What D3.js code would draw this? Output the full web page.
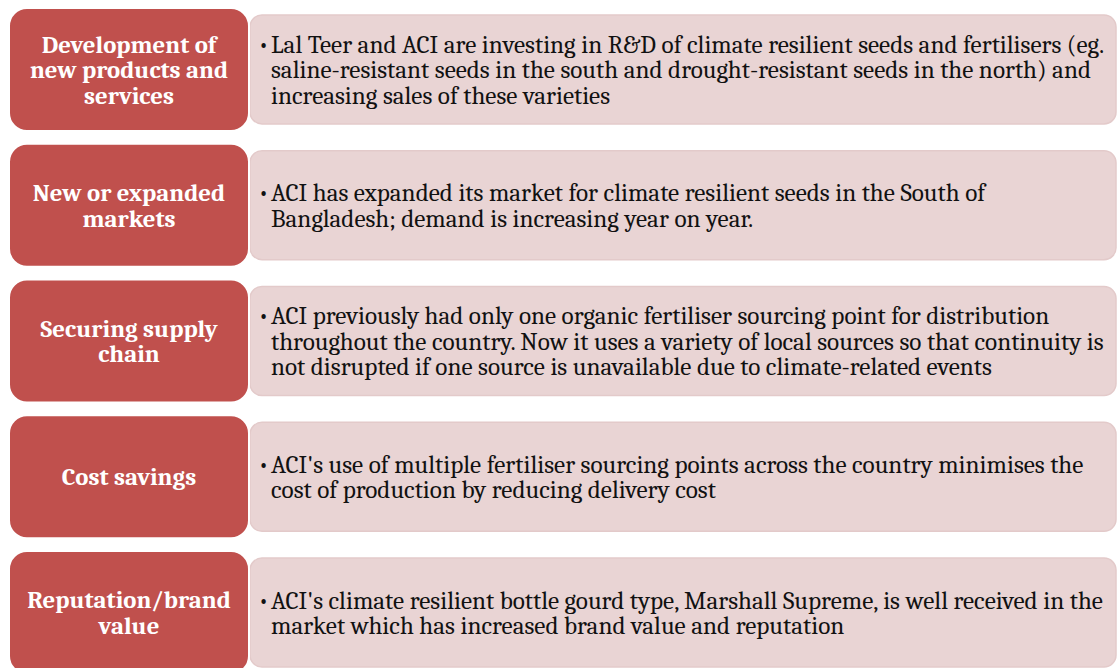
<!DOCTYPE html>
<html>
<head>
<meta charset="utf-8">
<script src="https://cdn.jsdelivr.net/npm/d3@7"></script>
<style>
  body { margin: 0; background: #fff; }
  svg { display: block; }
</style>
</head>
<body>
<div id="chart"></div>
<script>
// set dimensions
var width = 1117;
var height = 668;

// data
var categories = [
  ["Development of", "new products and", "services"],
  ["New or expanded", "markets"],
  ["Securing supply", "chain"],
  ["Cost savings"],
  ["Reputation/brand", "value"]
];

var descriptions = [
  ["Lal Teer and ACI are investing in R&D of climate resilient seeds and fertilisers (eg.",
   "saline-resistant seeds in the south and drought-resistant seeds in the north) and",
   "increasing sales of these varieties"],
  ["ACI has expanded its market for climate resilient seeds in the South of",
   "Bangladesh; demand is increasing year on year."],
  ["ACI previously had only one organic fertiliser sourcing point for distribution",
   "throughout the country. Now it uses a variety of local sources so that continuity is",
   "not disrupted if one source is unavailable due to climate-related events"],
  ["ACI's use of multiple fertiliser sourcing points across the country minimises the",
   "cost of production by reducing delivery cost"],
  ["ACI's climate resilient bottle gourd type, Marshall Supreme, is well received in the",
   "market which has increased brand value and reputation"]
];

var rows = d3.range(categories.length);

var svg = d3.select("#chart")
  .append("svg")
    .attr("width", width)
    .attr("height", height);

// rows
var y = d3.scaleBand()
  .domain(rows)
  .range([8, 674])
  .paddingInner(0.095)
  .paddingOuter(0);

var serif = "Cambria, 'Liberation Serif', 'DejaVu Serif', serif";

// pick a font size so the longest line fills the box like the original
var probe = svg.append("text")
  .style("font-family", serif)
  .style("font-size", "20px")
  .text(descriptions[0][0]);
var w20 = probe.node().getComputedTextLength();
probe.remove();
var bodySize = 20 * 834 / w20;

var labelSize = bodySize * 0.985;

var g = svg.selectAll(".row")
  .data(rows)
  .enter()
  .append("g")
    .attr("class", "row");

// pink text boxes
g.append("rect")
  .attr("x", 250)
  .attr("y", function(d) { return y(d) + 7; })
  .attr("width", 866)
  .attr("height", y.bandwidth() - 14)
  .attr("rx", 12)
  .attr("fill", "#e9d4d4")
  .attr("stroke", "#e3caca")
  .attr("stroke-width", 1.5);

// red label boxes
g.append("rect")
  .attr("x", 9)
  .attr("y", function(d) { return y(d); })
  .attr("width", 240)
  .attr("height", y.bandwidth())
  .attr("rx", 18)
  .attr("fill", "#c0504d")
  .attr("stroke", "#ffffff")
  .attr("stroke-width", 2);

var lh = 25.5;

// category labels
g.append("text")
  .attr("text-anchor", "middle")
  .style("font-family", serif)
  .style("font-weight", "bold")
  .style("font-size", labelSize + "px")
  .attr("fill", "#ffffff")
  .each(function(d) {
    var lines = categories[d];
    var cy = y(d) + y.bandwidth() / 2;
    var top = cy - (lines.length - 1) * lh / 2;
    d3.select(this).selectAll("tspan")
      .data(lines)
      .enter()
      .append("tspan")
        .attr("x", 129)
        .attr("y", function(l, i) { return top + i * lh; })
        .attr("dy", "0.35em")
        .text(function(l) { return l; });
  });

// bullet text
g.each(function(d) {
  var lines = descriptions[d];
  var cy = y(d) + y.bandwidth() / 2;
  var top = cy - (lines.length - 1) * lh / 2;
  var sel = d3.select(this);
  sel.append("text")
    .attr("x", 258)
    .attr("y", top)
    .attr("dy", "0.35em")
    .style("font-family", serif)
    .style("font-size", bodySize + "px")
    .attr("fill", "#111")
    .text("\u2022");
  sel.append("text")
    .style("font-family", serif)
    .style("font-size", bodySize + "px")
    .attr("fill", "#111")
    .selectAll("tspan")
    .data(lines)
    .enter()
    .append("tspan")
      .attr("x", 271)
      .attr("y", function(l, i) { return top + i * lh; })
      .attr("dy", "0.35em")
      .text(function(l) { return l; });
});
</script>
</body>
</html>
